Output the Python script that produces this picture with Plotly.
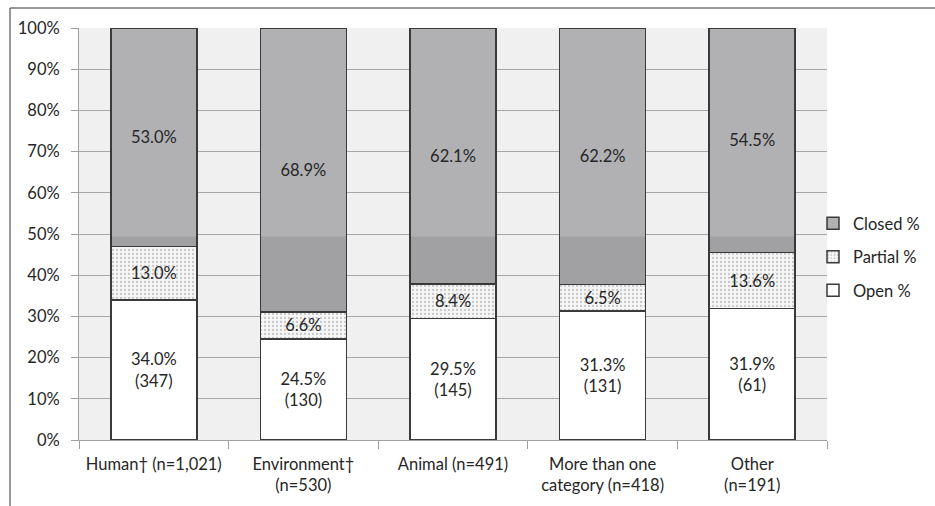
import plotly.graph_objects as go

categories = ["Human† (n=1,021)", "Environment†<br>(n=530)", "Animal (n=491)",
              "More than one<br>category (n=418)", "Other<br>(n=191)"]
open_pct = [34.0, 24.5, 29.5, 31.3, 31.9]
open_n = [347, 130, 145, 131, 61]
partial_pct = [13.0, 6.6, 8.4, 6.5, 13.6]
closed_pct = [53.0, 68.9, 62.1, 62.2, 54.5]
y_ticks = list(range(0, 101, 10))

FONT = "Lato"
TXT = "#262626"
EDGE = "#3a3a3a"
FS = 16.5

fig = go.Figure()
fig.add_trace(go.Bar(
    name="Open %", x=categories, y=open_pct, legendgroup="o", legendrank=3,
    marker=dict(color="white", line=dict(color=EDGE, width=1.5)),
    text=[f"{p:.1f}%<br>({n})" for p, n in zip(open_pct, open_n)],
    textposition="inside", insidetextanchor="middle",
    textfont=dict(color=TXT, size=FS, family=FONT), hoverinfo="skip"))
fig.add_trace(go.Bar(
    name="Partial %", x=categories, y=partial_pct, legendgroup="p", legendrank=2,
    marker=dict(color="white", line=dict(color=EDGE, width=1.5),
                pattern=dict(shape=".", fgcolor="#9a9a9a", bgcolor="#f6f6f6", size=4, solidity=0.25)),
    text=[f"{p:.1f}%" for p in partial_pct],
    textposition="inside", insidetextanchor="middle",
    textfont=dict(color=TXT, size=FS, family=FONT), hoverinfo="skip"))
fig.add_trace(go.Bar(
    name="Closed %", x=categories, y=closed_pct, legendgroup="c", legendrank=1,
    marker=dict(color="#b1b1b4", line=dict(color=EDGE, width=1.5)),
    text=[f"{p:.1f}%" for p in closed_pct],
    textposition="inside", insidetextanchor="middle",
    textfont=dict(color=TXT, size=FS, family=FONT), hoverinfo="skip"))

shapes = []
# darker lower band inside closed bars (below ~49.4%)
for i, (o, p) in enumerate(zip(open_pct, partial_pct)):
    base = o + p
    if base < 49.4:
        shapes.append(dict(type="rect", xref="x", yref="y", x0=i - 0.287, x1=i + 0.287,
                           y0=base, y1=49.4, fillcolor="rgba(0,0,0,0.09)",
                           line=dict(width=0), layer="above"))
# outer frame
shapes.append(dict(type="rect", xref="paper", yref="paper",
                   x0=(10 - 79) / 748, x1=1.3, y0=-0.3, y1=(440 - 8) / 412,
                   line=dict(color="#333333", width=1), fillcolor="rgba(0,0,0,0)"))

fig.update_layout(
    barmode="stack", bargap=0.425,
    width=935, height=506,
    margin=dict(l=79, r=108, t=28, b=66, autoexpand=False),
    paper_bgcolor="white", plot_bgcolor="#f0f0f0",
    font=dict(family=FONT, size=FS, color=TXT),
    uniformtext=dict(minsize=FS, mode="show"),
    showlegend=True,
    legend=dict(traceorder="grouped", x=(813 - 79) / 748, y=(440 - 257) / 412,
                xanchor="left", yanchor="middle",
                font=dict(size=FS, color=TXT, family=FONT), itemwidth=30,
                tracegroupgap=9, bgcolor="rgba(0,0,0,0)"),
    shapes=shapes,
)
fig.update_yaxes(range=[0, 100], tickvals=y_ticks, ticktext=[f"{t}%" for t in y_ticks],
                 showgrid=True, gridcolor="#a8a8a8", gridwidth=1,
                 showline=True, linecolor="#a0a0a0", linewidth=1, automargin=False,
                 ticks="outside", ticklen=7, tickcolor="#a0a0a0", ticklabelstandoff=8,
                 tickfont=dict(size=FS, family=FONT, color=TXT), zeroline=False)
fig.update_xaxes(showline=True, linecolor="#a0a0a0", linewidth=1, automargin=False,
                 ticks="outside", tickson="boundaries", ticklen=8, tickcolor="#a0a0a0",
                 ticklabelstandoff=9, tickangle=0,
                 tickfont=dict(size=FS, family=FONT, color=TXT), showgrid=False)

fig.write_html("out.html")
